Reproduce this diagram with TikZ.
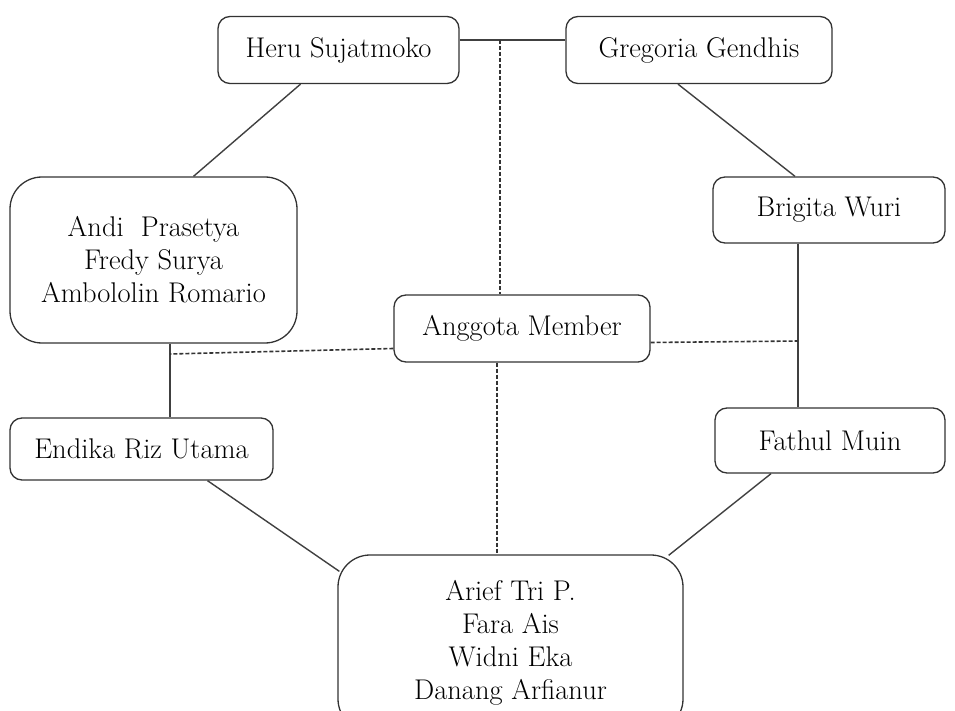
\documentclass[tikz,border=0pt]{standalone}
\usepackage{tikz}

\begin{document}
\begin{tikzpicture}[x=1pt,y=-1pt,
		namebox/.style={draw=black!80, line width=1.3pt, rounded corners=12pt, inner sep=0pt,
			align=center, font=\fontsize{28.5}{33}\selectfont},
		bigbox/.style={namebox, rounded corners=32pt},
		link/.style={draw=black!75, line width=1.4pt},
		dashlink/.style={draw=black!80, line width=1.6pt, dash pattern=on 4pt off 2pt}]
		\useasboundingbox (0,0) rectangle (955,711);
		
		\node [namebox, minimum width=241pt, minimum height=67pt] (heru) at (338.5,50) {Heru Sujatmoko};
		\node [namebox, minimum width=266pt, minimum height=67pt] (gregoria) at (699,50) {Gregoria Gendhis};
		\node [bigbox, minimum width=287pt, minimum height=166pt] (andi) at (153.5,260) {Andi\ \ Prasetya\\Fredy Surya\\Ambololin Romario};
		\node [namebox, minimum width=232pt, minimum height=66pt] (brigita) at (829,210) {Brigita Wuri};
		\node [namebox, minimum width=256pt, minimum height=67pt] (anggota) at (522,328.5) {Anggota Member};
		\node [namebox, minimum width=263pt, minimum height=62pt] (endika) at (141.5,449) {Endika Riz Utama};
		\node [namebox, minimum width=230pt, minimum height=65pt] (fathul) at (830,440.5) {Fathul Muin};
		\node [bigbox, minimum width=345pt, minimum height=176pt] (arief) at (510.5,643) {Arief Tri P.\\Fara Ais\\Widni Eka\\Danang Arfianur};
		
		% garis penghubung
		\coordinate (topmid) at (500,40);
		\coordinate (leftmid) at (170,354);
		\coordinate (rightmid) at (798,341);
		\draw [link] (heru.east |- topmid) -- (gregoria.west |- topmid);
		\draw [link] ([xshift=-38pt]heru.south) -- ([xshift=40pt]andi.north);
		\draw [link] ([xshift=-21pt]gregoria.south) -- ([xshift=-34pt]brigita.north);
		\draw [link] (andi.south -| leftmid) -- (endika.north -| leftmid);
		\draw [link] (brigita.south -| rightmid) -- (fathul.north -| rightmid);
		\draw [link] ([xshift=66pt]endika.south) -- ([xshift=2pt,yshift=-17pt]arief.north west);
		\draw [link] ([xshift=-59pt]fathul.south) -- ([xshift=-15pt,yshift=-1pt]arief.north east);
		
		% garis putus-putus ke anggota
		\draw [dashlink] (topmid) -- (anggota.north -| topmid);
		\draw [dashlink] ([xshift=-25pt]anggota.south) -- ([xshift=-25pt]anggota.south |- arief.north);
		\draw [dashlink] ([yshift=-20pt]anggota.west) -- (leftmid);
		\draw [dashlink] ([yshift=-14pt]anggota.east) -- (rightmid);
		
	\end{tikzpicture}
\end{document}
